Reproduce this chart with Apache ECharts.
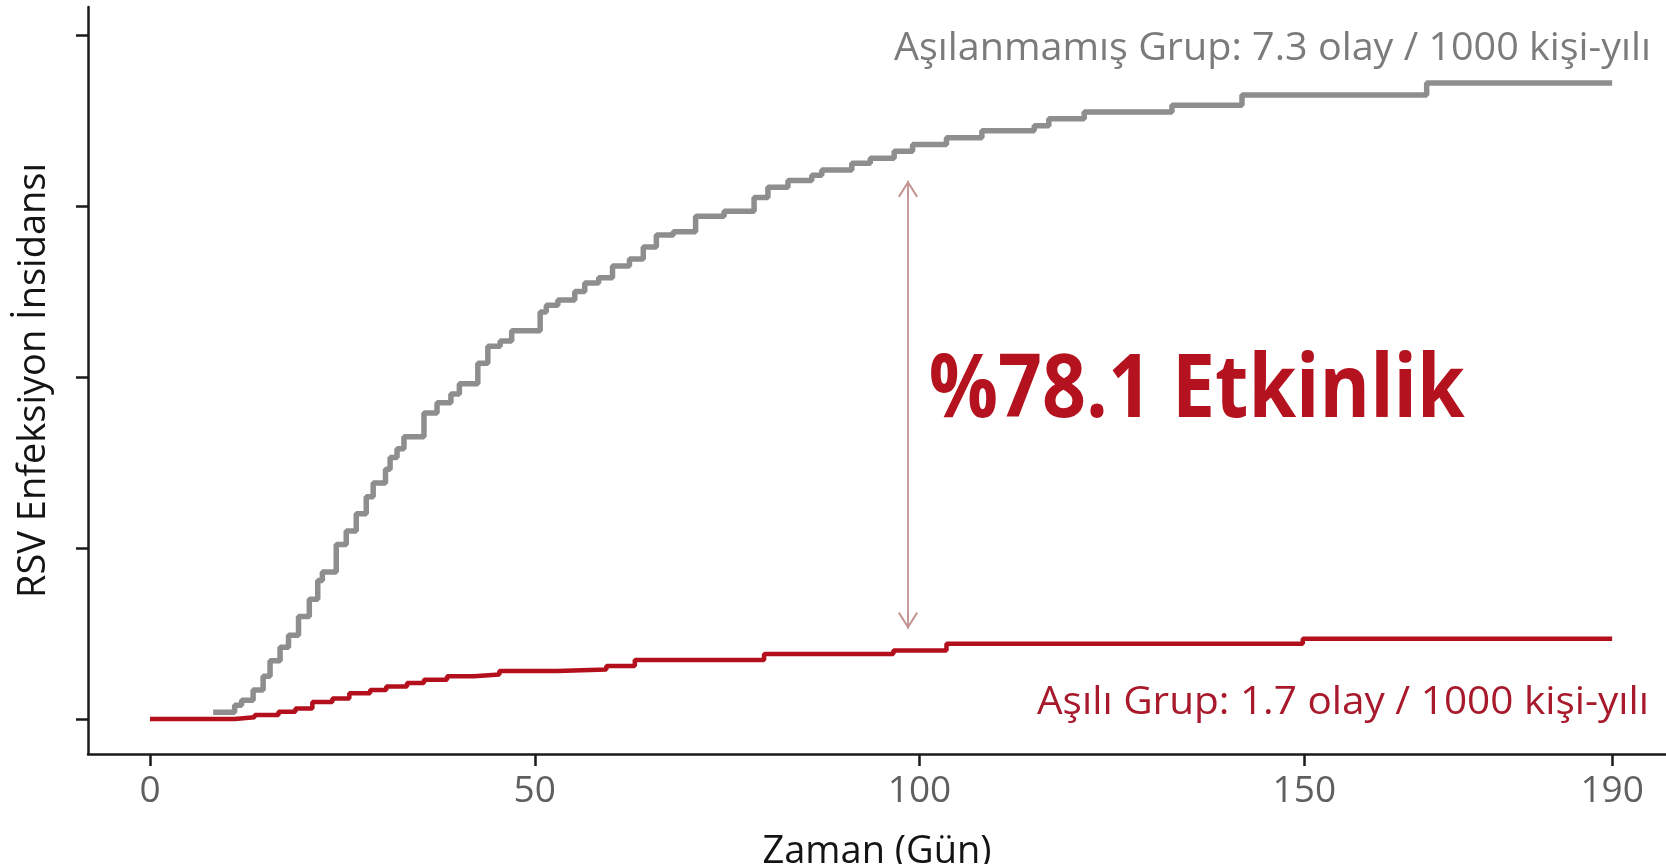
<!DOCTYPE html>
<html>
<head>
<meta charset="utf-8">
<script src="https://cdn.jsdelivr.net/npm/echarts@6/dist/echarts.min.js"></script>
<style>
html,body{margin:0;padding:0;background:#ffffff;}
#chart{width:1666px;height:864px;}
</style>
</head>
<body>
<div id="chart"></div>
<script>
// ---- data ----
const xTickValues = [0, 50, 100, 150, 190];
const yTickValues = [0, 1, 2, 3, 4];

// Unvaccinated group (grey), cumulative incidence in y-tick units, step at each day
const unvaxDays = [8.2, 11.0, 11.9, 13.4, 14.7, 15.6, 16.9, 18.0, 19.3, 20.7, 21.8, 22.4, 24.2, 25.5, 26.8, 28.1, 29.0, 30.6, 31.2, 32.1, 33.0, 35.6, 37.3, 39.1, 40.2, 42.6, 43.9, 45.5, 47.0, 50.7, 51.5, 53.0, 55.2, 56.5, 58.3, 60.1, 62.3, 64.1, 65.8, 68.0, 70.9, 74.6, 78.5, 80.3, 82.9, 86.0, 87.3, 91.2, 93.6, 96.7, 99.1, 103.5, 108.1, 114.9, 116.8, 121.4, 132.8, 141.9, 165.9, 190];
const unvaxVals = [0.04, 0.08, 0.11, 0.17, 0.25, 0.34, 0.42, 0.49, 0.60, 0.70, 0.81, 0.86, 1.02, 1.10, 1.20, 1.30, 1.38, 1.46, 1.53, 1.58, 1.65, 1.79, 1.85, 1.90, 1.96, 2.08, 2.18, 2.21, 2.27, 2.38, 2.42, 2.45, 2.50, 2.55, 2.58, 2.65, 2.69, 2.76, 2.83, 2.85, 2.94, 2.97, 3.05, 3.11, 3.15, 3.18, 3.21, 3.25, 3.28, 3.32, 3.36, 3.40, 3.44, 3.47, 3.51, 3.55, 3.59, 3.65, 3.72, 3.72];

// Vaccinated group (red)
const vaxDays = [0, 11.0, 13.6, 16.7, 18.9, 21.1, 23.7, 25.9, 28.6, 30.7, 33.4, 35.6, 38.6, 42.1, 45.4, 52.9, 59.3, 63.0, 79.8, 96.6, 103.5, 149.8, 190];
const vaxVals = [0, 0.01, 0.023, 0.043, 0.062, 0.10, 0.12, 0.15, 0.17, 0.19, 0.21, 0.23, 0.25, 0.26, 0.28, 0.29, 0.31, 0.345, 0.38, 0.40, 0.44, 0.47, 0.47];

// Efficacy arrow (day, from value, to value)
const arrowDay = 98.5;
const arrowTopVal = 3.10;
const arrowBottomVal = 0.576;

// Texts
const xAxisTitle = 'Zaman (Gün)';
const yAxisTitle = 'RSV Enfeksiyon İnsidansı';
const unvaxLabel = 'Aşılanmamış Grup: 7.3 olay / 1000 kişi-yılı';
const vaxLabel = 'Aşılı Grup: 1.7 olay / 1000 kişi-yılı';
const efficacyLabel = '%78.1 Etkinlik';
const efficacyAnchor = [101.2, 1.91]; // left edge / vertical centre of the big label

// ---- chart ----
const unvaxData = unvaxDays.map((d, i) => [d, unvaxVals[i]]);
const vaxData = vaxDays.map((d, i) => [d, vaxVals[i]]);

const chevron = 'path://M10,0 L20,16 L18.4,17.3 L10,3.9 L1.6,17.3 L0,16 Z M9.1,0 L10.9,0 L10.9,17.3 L9.1,17.3 Z';

const FONT = '"Open Sans", "Liberation Sans", sans-serif';
const chart = echarts.init(document.getElementById('chart'));

const option = {
  animation: false,
  backgroundColor: '#ffffff',
  grid: { left: 88, right: 0, top: 7, bottom: 110, containLabel: false, outerBoundsMode: 'none' },
  xAxis: {
    type: 'value',
    min: -8.057,
    max: 197.0,
    splitLine: { show: false },
    axisLine: { show: true, onZero: false, lineStyle: { color: '#1a1a1a', width: 2.5 } },
    axisTick: { show: true, customValues: xTickValues, length: 12, lineStyle: { color: '#1a1a1a', width: 2.5 } },
    axisLabel: { show: true, customValues: xTickValues, margin: 19, color: '#5f5f5f', fontSize: 37, fontFamily: FONT },
    name: xAxisTitle,
    nameLocation: 'middle',
    nameGap: 79,
    nameTextStyle: { color: '#141414', fontSize: 38, fontFamily: FONT }
  },
  yAxis: {
    type: 'value',
    min: -0.2047,
    max: 4.164,
    splitLine: { show: false },
    axisLine: { show: true, onZero: false, lineStyle: { color: '#1a1a1a', width: 2.5 } },
    axisTick: { show: true, customValues: yTickValues, length: 12, lineStyle: { color: '#1a1a1a', width: 2.5 } },
    axisLabel: { show: false },
    name: yAxisTitle,
    nameLocation: 'middle',
    nameGap: 35,
    nameRotate: 90,
    nameTextStyle: { color: '#141414', fontSize: 38, fontFamily: FONT }
  },
  series: [
    {
      name: 'Aşılanmamış Grup',
      type: 'line',
      step: 'end',
      showSymbol: false,
      data: unvaxData,
      lineStyle: { color: '#8e8e8e', width: 5.5 },
      itemStyle: { color: '#8e8e8e' },
      z: 2,
      markLine: {
        silent: true,
        symbol: [chevron, chevron],
        symbolSize: [20, 17],
        label: { show: false },
        lineStyle: { color: '#c49494', width: 1.8, type: 'solid' },
        data: [[{ coord: [arrowDay, arrowTopVal] }, { coord: [arrowDay, arrowBottomVal] }]]
      }
    },
    {
      name: 'Aşılı Grup',
      type: 'line',
      step: 'end',
      showSymbol: false,
      data: vaxData,
      lineStyle: { color: '#b30f1c', width: 4.5 },
      itemStyle: { color: '#b30f1c' },
      z: 3
    }
  ]
};
chart.setOption(option);

// ---- annotation texts ----
const mctx = document.createElement('canvas').getContext('2d');
function textWidth(text, font) { mctx.font = font; return mctx.measureText(text).width; }

const labelFont = '38px "Open Sans", sans-serif';
const bigFont = 'bold 88px "Open Sans", sans-serif';
const sGray = 757 / textWidth(unvaxLabel, labelFont);
const sRed = 612 / textWidth(vaxLabel, labelFont);
const sBig = 536 / textWidth(efficacyLabel, bigFont);
const bigPos = chart.convertToPixel({ gridIndex: 0 }, efficacyAnchor);

chart.setOption({
  graphic: [
    {
      type: 'text', x: 1651, y: 49.5, scaleX: sGray, silent: true,
      style: { text: unvaxLabel, font: labelFont, fill: '#7b7b7b', align: 'right', verticalAlign: 'middle' }
    },
    {
      type: 'text', x: 1649, y: 703, scaleX: sRed, silent: true,
      style: { text: vaxLabel, font: labelFont, fill: '#a8192b', align: 'right', verticalAlign: 'middle' }
    },
    {
      type: 'text', x: bigPos[0], y: bigPos[1], scaleX: sBig, silent: true,
      style: { text: efficacyLabel, font: bigFont, fill: '#b3121e', align: 'left', verticalAlign: 'middle' }
    }
  ]
});
</script>
</body>
</html>
